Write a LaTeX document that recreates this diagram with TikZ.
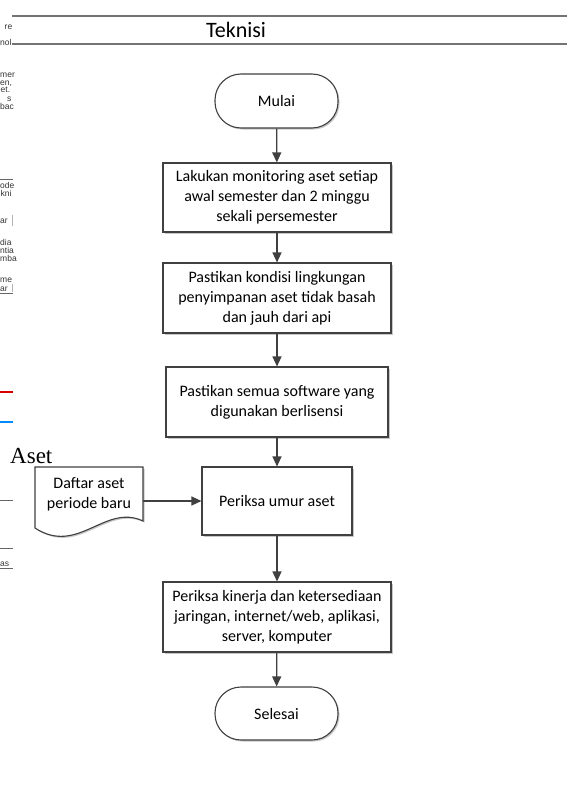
\documentclass[tikz,border=0pt]{standalone}
\usepackage{fontspec}
\setmainfont{Carlito}
\newfontfamily\fragfont{Liberation Sans}
\newfontfamily\oldserif{Liberation Serif}
\usetikzlibrary{arrows.meta,shadows}
\definecolor{linec}{HTML}{404040}
\begin{document}
\begin{tikzpicture}[x=1pt,y=-1pt,
  boxshadow/.style={drop shadow={shadow xshift=1.5pt,shadow yshift=-1.5pt,fill=black!22,opacity=1}},
  procbox/.style={draw=linec,line width=1.1pt,fill=white,align=center,
    font=\fontsize{16}{20}\selectfont,inner sep=0pt,boxshadow},
  termbox/.style={procbox,rounded corners=26pt,minimum width=123pt,minimum height=54pt},
  arr/.style={draw=linec,line width=1.2pt,-{Triangle[length=10pt,width=9pt]}},
  frag/.style={font=\fragfont\fontsize{8.5}{9}\selectfont,text=black!80,inner sep=0pt,anchor=base west},
  fragline/.style={draw=black!60,line width=0.8pt}]
\useasboundingbox (0,0) rectangle (567,789);
\fill[white] (0,0) rectangle (567,789);

% left-edge fragments of the underlying page
\node[frag] (f1) at (4.5,30) {re};
\node[frag] (f2) at (0,46) {nol};
\node[frag] (f3) at (0,78) {mer};
\node[frag] (f4) at (0,86) {en,};
\node[frag] (f5) at (0.5,93) {et.};
\node[frag] (f6) at (7,102) {s};
\node[frag] (f7) at (0,110) {bac};
\draw[fragline] (0,179) -- (13,179);
\node[frag] (f8) at (0,188) {ode};
\node[frag] (f9) at (0.5,196) {kni};
\node[frag] (f10) at (0,223) {ar};
\draw[draw=black!30,line width=0.6pt] (12,215) -- (12,226);
\node[frag] (f11) at (0,245) {dia};
\node[frag] (f12) at (0,253) {ntia};
\node[frag] (f13) at (0,261) {mba};
\node[frag] (f14) at (0,282) {me};
\node[frag] (f15) at (0,291) {ar};
\draw[draw=black!30,line width=0.6pt] (12,284) -- (12,292);
\draw[fragline] (0,293) -- (13,293);
\draw[draw=red!85!black,line width=1.6pt] (0,392) -- (13,392);
\draw[draw=blue!45!cyan,line width=1.4pt] (0,422) -- (13,422);
\draw[fragline] (0,500) -- (13,500);
\draw[fragline] (0,548) -- (13,548);
\node[frag] (f16) at (0,566) {as};
\draw[fragline] (0,568.5) -- (13,568.5);
\node[font=\oldserif\fontsize{23}{25}\selectfont,inner sep=0pt,anchor=base west] (aset) at (10,463) {Aset};

% swimlane header
\draw[draw=black!55,line width=1.3pt] (12,16) -- (567,16);
\draw[draw=black!55,line width=1.3pt] (12,44) -- (567,44);
\node[font=\fontsize{22}{24}\selectfont,inner sep=0pt] (lane) at (236,30) {Teknisi};

% flow
\node[termbox] (start) at (276.5,101) {Mulai};
\node[procbox,minimum width=228pt,minimum height=69pt] (b1) at (277,197.5)
  {Lakukan monitoring aset setiap\\awal semester dan 2 minggu\\sekali persemester};
\node[procbox,minimum width=228pt,minimum height=70pt] (b2) at (277,298)
  {Pastikan kondisi lingkungan\\penyimpanan aset tidak basah\\dan jauh dari api};
\node[procbox,minimum width=222pt,minimum height=70pt] (b3) at (277,402)
  {Pastikan semua software yang\\digunakan berlisensi};
\node[procbox,minimum width=150pt,minimum height=68pt] (b4) at (277,501)
  {Periksa umur aset};
\node[procbox,minimum width=228pt,minimum height=70pt] (b5) at (277,617)
  {Periksa kinerja dan ketersediaan\\jaringan, internet/web, aplikasi,\\server, komputer};
\node[termbox,minimum height=53pt] (end) at (276.5,713.5) {Selesai};

% document shape
\draw[draw=linec,line width=1.1pt,fill=white,boxshadow]
  (35,467) -- (143,467) -- (143,521) .. controls (105,503) and (78,556) .. (35,528) -- cycle;
\node[align=center,font=\fontsize{16}{20}\selectfont,inner sep=0pt,
  minimum width=108pt,minimum height=60pt] (doc) at (89,494) {Daftar aset\\periode baru};

% connectors
\draw[arr] (start) -- (b1);
\draw[arr] (b1) -- (b2);
\draw[arr] (b2) -- (b3);
\draw[arr] (b3) -- (b4);
\draw[arr] (b4) -- (b5);
\draw[arr] (b5) -- (end);
\draw[arr] (doc.east |- b4.west) -- (b4.west);
\end{tikzpicture}
\end{document}
